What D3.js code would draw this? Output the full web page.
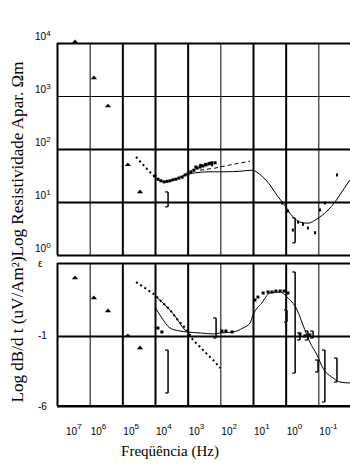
<!DOCTYPE html>
<html><head><meta charset="utf-8">
<script src="https://cdn.jsdelivr.net/npm/d3@7"></script>
<style>body{margin:0;background:#fff}svg{display:block}</style>
</head><body>
<script>
// ---- data (log10 frequency, log10 value) ----
const xDecades = [7,6,5,4,3,2,1,0,-1,-2];
const xTickLabels = ["7","6","5","4","3","2","1","0","-1"];
const topDecades = [0,1,2,3,4];
const botTicks = [4.2,-1,-6];
const botTickLabels = ["ε","-1","-6"];

const triTop = [[6.45,4.02],[5.87,3.34],[5.44,2.81],[4.83,1.70],[4.46,1.19]];
const dottedTop = [[4.58,1.85],[4.45,1.76],[4.30,1.66],[4.15,1.56],[4.00,1.47]];
const sqTop = [[4.00,1.49],[3.91,1.43],[3.82,1.40],[3.72,1.38],[3.63,1.39],[3.54,1.40],[3.45,1.42],[3.36,1.43],[3.27,1.45],[3.17,1.47],[3.08,1.51],[2.99,1.53],[2.90,1.57],[2.81,1.60],[2.71,1.64],[2.62,1.66],[2.53,1.68],[2.44,1.70],[2.35,1.72],[2.26,1.74],[2.16,1.74],[2.75,1.66],[2.60,1.69],[2.45,1.71],[2.32,1.73]];
const modelTop = [[3.91,1.42],[3.69,1.38],[3.39,1.43],[3.08,1.51],[2.78,1.55],[2.32,1.57],[1.86,1.57],[1.40,1.58],[1.03,1.60],[0.73,1.49],[0.48,1.32],[0.27,1.13],[0.08,0.98],[-0.13,0.79],[-0.44,0.62],[-0.68,0.60],[-0.96,0.68],[-1.30,0.85],[-1.51,1.00],[-1.72,1.19],[-1.97,1.42]];
const dashTop = [[2.62,1.60],[2.16,1.64],[1.70,1.70],[1.09,1.77]];
const ptsTop = [[0.11,0.98],[-0.07,0.83],[-0.38,0.62],[-0.53,0.58],[-0.68,0.51],[-0.90,0.42],[-1.05,0.85],[-1.20,0.98],[-1.57,1.51],[-0.22,0.47],[2.25,1.70]];
const errTop = [[3.60,1.19,0.91],[-0.29,0.70,0.23]];

const triBot = [[6.45,3.13],[5.87,1.70],[5.44,0.78],[4.83,-1.00],[4.46,-1.86]];
const dotBot = [[4.58,2.84],[4.31,2.42],[4.00,1.92],[3.79,1.42],[3.54,0.85],[3.30,0.13],[3.02,-0.58],[2.84,-1.29],[2.62,-1.79],[2.38,-2.36],[2.16,-2.86],[2.01,-3.29]];
const modelBot = [[4.00,1.06],[3.79,0.28],[3.54,-0.44],[3.24,-0.65],[3.02,-0.72],[2.62,-0.79],[2.22,-0.86],[2.01,-0.79],[1.61,-0.72],[1.31,-0.44],[1.09,-0.08],[1.00,0.49],[0.73,1.35],[0.48,2.06],[0.17,2.13],[-0.04,1.77],[-0.35,0.85],[-0.53,-0.22],[-0.74,-1.44],[-0.96,-2.36],[-1.14,-3.29],[-1.45,-4.00],[-1.66,-4.29],[-1.97,-4.36]];
const model2Bot = [[4.00,1.85],[3.69,1.20],[3.39,0.42],[3.08,-0.58],[2.93,-0.79]];
const sqBot = [[3.91,-0.44],[3.79,-0.72],[1.95,-0.65],[1.83,-0.65],[1.64,-0.72],[0.94,1.56],[0.85,1.77],[0.69,2.06],[0.54,2.13],[0.42,2.13],[0.30,2.20],[0.17,2.20],[0.05,2.20],[-0.07,2.06],[-0.44,-0.86],[-0.59,-1.00],[-0.74,-0.93]];
const errBot = [[3.60,-2.01,-5.07],[2.13,0.28,-1.15],[-0.29,3.56,-3.65],[-0.04,0.85,-0.01],[-1.20,-2.01,-5.71],[-1.57,-2.58,-4.29],[-0.99,-2.72,-3.57],[-0.44,-0.79,-1.29],[-0.68,-0.65,-1.29],[-0.84,-0.65,-1.15]];

// ---- layout ----
const W = 350, H = 465;
const L = 57, R = 351;
const T1 = 43, B1 = 255, T2 = 263, B2 = 406;

const svg = d3.select("body").append("svg").attr("width", W).attr("height", H);
const x = d3.scaleLinear().domain([7,-2]).range([L,R]);
const yTop = d3.scaleLinear().domain([0,4]).range([B1,T1]);
const yBot = d3.scaleLinear().domain([-6,4.2]).range([B2,T2]);
const thinX = new Set([6,2,-1]);

function vgrid(y0, y1) {
  const g = svg.append("g").attr("transform", `translate(0,${y1})`)
    .call(d3.axisBottom(x).tickValues(xDecades).tickSize(-(y1-y0)).tickFormat(""));
  g.select(".domain").remove();
  g.selectAll(".tick line").attr("stroke","#000")
    .attr("stroke-width", d => thinX.has(d) ? 1 : 2);
}
vgrid(T1, B1); vgrid(T2, B2);

const gT = svg.append("g").attr("transform", `translate(${L},0)`)
  .call(d3.axisLeft(yTop).tickValues(topDecades).tickSize(-(R-L)).tickFormat(""));
gT.select(".domain").remove();
gT.selectAll(".tick line").attr("stroke","#000").attr("stroke-width", d => d===3 ? 1 : 2);

const gB = svg.append("g").attr("transform", `translate(${L},0)`)
  .call(d3.axisLeft(yBot).tickValues(botTicks).tickSize(-(R-L)).tickFormat(""));
gB.select(".domain").remove();
gB.selectAll(".tick line").attr("stroke","#000").attr("stroke-width", 2);
svg.append("line").attr("x1",L).attr("x2",R).attr("y1",B2).attr("y2",B2).attr("stroke","#000").attr("stroke-width",2);

const sans = "Liberation Sans, Arial, sans-serif";
const serif = "Liberation Serif, Times New Roman, serif";
topDecades.forEach(d => {
  const t = svg.append("text").attr("x", 35).attr("y", yTop(d) - 3)
    .attr("font-family", sans).attr("font-size", 10).attr("fill","#000");
  t.append("tspan").text("10");
  t.append("tspan").attr("font-size", 8).attr("dy", -4).text(d);
});
botTicks.forEach((d,i) => {
  svg.append("text").attr("x", 38).attr("y", yBot(d)).attr("dy","0.35em")
    .attr("font-family", sans).attr("font-size", 10).text(botTickLabels[i]);
});
xTickLabels.forEach((lab,i) => {
  const px = Math.max(x(xDecades[i]) + 1, L + 9);
  const t = svg.append("text").attr("x", px).attr("y", 435)
    .attr("font-family", sans).attr("font-size", 10);
  t.append("tspan").text("10");
  t.append("tspan").attr("font-size", 8).attr("dy", -6).text(lab);
});

svg.append("text").attr("transform", "translate(23,232) rotate(-90)")
  .attr("text-anchor","middle").attr("font-family", serif).attr("font-size", 16)
  .attr("textLength", 341).attr("lengthAdjust","spacingAndGlyphs")
  .text("Log  dB/d t (uV/Am²)Log Resistividade Apar. Ωm");
svg.append("text").attr("x", 170).attr("y", 456).attr("text-anchor","middle")
  .attr("font-family", serif).attr("font-size", 15).text("Freqüência (Hz)");

function drawPanel(y, tri, dotted, sq, models, dash, pts, errs) {
  const line = d3.line().x(d => x(d[0])).y(d => y(d[1])).curve(d3.curveMonotoneX);
  models.forEach(m => svg.append("path").datum(m).attr("d", line)
    .attr("fill","none").attr("stroke","#000").attr("stroke-width",1));
  if (dash) svg.append("path").datum(dash).attr("d", d3.line().x(d=>x(d[0])).y(d=>y(d[1])))
    .attr("fill","none").attr("stroke","#000").attr("stroke-width",1).attr("stroke-dasharray","4,3");
  svg.append("path").datum(dotted).attr("d", d3.line().x(d=>x(d[0])).y(d=>y(d[1])))
    .attr("fill","none").attr("stroke","#000").attr("stroke-width",2).attr("stroke-dasharray","2,3");
  svg.selectAll(null).data(sq).enter().append("rect")
    .attr("x", d => x(d[0]) - 1.5).attr("y", d => y(d[1]) - 1.5)
    .attr("width", 3).attr("height", 3).attr("fill","#000");
  svg.selectAll(null).data(pts).enter().append("rect")
    .attr("x", d => x(d[0]) - 1).attr("y", d => y(d[1]) - 1.5)
    .attr("width", 2).attr("height", 3).attr("fill","#000");
  svg.selectAll(null).data(tri).enter().append("path")
    .attr("d", d3.symbol(d3.symbolTriangle, 12))
    .attr("transform", d => `translate(${x(d[0])},${y(d[1])}) scale(1.2,0.8)`)
    .attr("fill","#000");
  const eg = svg.selectAll(null).data(errs).enter().append("g");
  eg.append("line").attr("x1", d => x(d[0])).attr("x2", d => x(d[0]))
    .attr("y1", d => y(d[1])).attr("y2", d => y(d[2])).attr("stroke","#000").attr("stroke-width",1.5);
  eg.append("line").attr("x1", d => x(d[0])).attr("x2", d => x(d[0]) - 3)
    .attr("y1", d => y(d[1])).attr("y2", d => y(d[1])).attr("stroke","#000").attr("stroke-width",1.2);
  eg.append("line").attr("x1", d => x(d[0])).attr("x2", d => x(d[0]) - 3)
    .attr("y1", d => y(d[2])).attr("y2", d => y(d[2])).attr("stroke","#000").attr("stroke-width",1.2);
}
drawPanel(yTop, triTop, dottedTop, sqTop, [modelTop], dashTop, ptsTop, errTop);
drawPanel(yBot, triBot, dotBot, sqBot, [modelBot, model2Bot], null, [], errBot);
</script>
</body></html>
